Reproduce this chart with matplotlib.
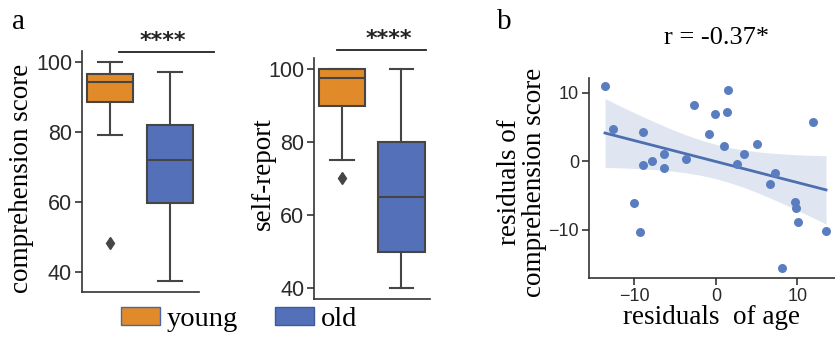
import numpy as np
import matplotlib
matplotlib.use("Agg")
import matplotlib.pyplot as plt
from matplotlib.patches import Patch
from matplotlib.transforms import blended_transform_factory

# box summaries: q1, median, q3, low whisker, high whisker, outliers
groups = ["young", "old"]
comp_stats = {
    "young": (88.6, 94.1, 96.4, 79.0, 100.0, [48.3]),
    "old": (59.8, 71.9, 82.1, 37.4, 97.0, []),
}
self_stats = {
    "young": (89.9, 97.5, 100.0, 75.2, 100.0, [70.1]),
    "old": (50.0, 65.0, 80.0, 40.0, 100.0, []),
}

# residual scatter
res_age = [-13.6, -12.6, -8.9, -8.9, -7.8, -6.4, -6.4, -3.7, -10.0, -9.3,
           -2.7, -0.8, -0.1, 1.0, 1.4, 1.5, 2.6, 3.4, 5.0, 6.6,
           7.2, 8.1, 9.7, 9.8, 10.1, 11.9, 13.5]
res_comp = [11.0, 4.7, 4.3, -0.6, 0.05, 1.0, -1.0, 0.4, -6.1, -10.3,
            8.3, 4.0, 6.9, 2.3, 7.2, 10.4, -0.4, 1.0, 2.5, -3.3,
            -1.7, -15.7, -6.0, -6.9, -8.9, 5.8, -10.2]

orange = "#e08a29"
blue = "#5470b8"
dot_blue = "#5a7dbf"
line_blue = "#4c6fb0"
edge = "#454545"
serif = "Liberation Serif"
sans = "Liberation Sans"

plt.rcParams["font.family"] = sans
plt.rcParams["axes.edgecolor"] = "#333333"
plt.rcParams["xtick.color"] = "#333333"
plt.rcParams["ytick.color"] = "#333333"
plt.rcParams["xtick.labelcolor"] = "#2a2a2a"
plt.rcParams["ytick.labelcolor"] = "#2a2a2a"


def draw_box(ax, stats):
    bxp = []
    for g in groups:
        q1, med, q3, lo, hi, fl = stats[g]
        bxp.append(dict(q1=q1, med=med, q3=q3, whislo=lo, whishi=hi,
                        fliers=fl, label=g))
    parts = ax.bxp(bxp, positions=[0, 1], widths=0.78, patch_artist=True,
                   showfliers=True,
                   boxprops=dict(edgecolor=edge, linewidth=1.5),
                   medianprops=dict(color=edge, linewidth=1.5),
                   whiskerprops=dict(color=edge, linewidth=1.5),
                   capprops=dict(color=edge, linewidth=1.5),
                   flierprops=dict(marker="d", markerfacecolor=edge,
                                   markeredgecolor=edge, markersize=6))
    for patch, c in zip(parts["boxes"], [orange, blue]):
        patch.set_facecolor(c)
    ax.set_xlim(-0.47, 1.48)
    ax.set_xticks([])
    ax.spines["top"].set_visible(False)
    ax.spines["right"].set_visible(False)
    ax.spines["left"].set_linewidth(1.2)
    ax.spines["bottom"].set_linewidth(1.2)
    ax.tick_params(axis="y", labelsize=15.5, length=5, width=1.2, pad=2)


def bracket(ax, x0, x1, y, xs, ys):
    tr = blended_transform_factory(ax.transData, ax.transAxes)
    ax.plot([x0, x1], [y, y], color="#222222", lw=1.3, transform=tr,
            clip_on=False)
    ax.text(xs, ys, "****", transform=tr, ha="center", va="center",
            fontsize=16, family="DejaVu Sans", weight="bold",
            color="#222222")


fig = plt.figure(figsize=(8.35, 3.42), dpi=100)

ax1 = fig.add_axes([0.098, 0.146, 0.140, 0.705])
draw_box(ax1, comp_stats)
ax1.set_ylim(34.3, 103.1)
ax1.set_yticks([40, 60, 80, 100])
ax1.set_ylabel("comprehension score", family=serif, fontsize=19.5)
ax1.yaxis.set_label_coords(-0.41, 0.47)
bracket(ax1, 0.15, 1.73, 0.996, 0.88, 1.04)

ax2 = fig.add_axes([0.376, 0.126, 0.139, 0.705])
draw_box(ax2, self_stats)
ax2.set_ylim(37.1, 103.0)
ax2.set_yticks([40, 60, 80, 100])
ax2.set_ylabel("self-report", family=serif, fontsize=19.5)
ax2.yaxis.set_label_coords(-0.33, 0.52)
bracket(ax2, -0.08, 1.41, 1.033, 0.78, 1.08)

# regression with analytic 95% band
x = np.array(res_age)
y = np.array(res_comp)
n = len(x)
slope, intercept = np.polyfit(x, y, 1)
xg = np.linspace(x.min(), x.max(), 100)
yg = intercept + slope * xg
resid = y - (intercept + slope * x)
s = np.sqrt(np.sum(resid ** 2) / (n - 2))
sxx = np.sum((x - x.mean()) ** 2)
se = s * np.sqrt(1.0 / n + (xg - x.mean()) ** 2 / sxx)
t = 2.06

ax3 = fig.add_axes([0.705, 0.187, 0.295, 0.585])
ax3.fill_between(xg, yg - t * se, yg + t * se, color=line_blue, alpha=0.17,
                 linewidth=0)
ax3.scatter(x, y, s=42, color=dot_blue, zorder=3, linewidths=0)
ax3.plot(xg, yg, color=line_blue, lw=2)
ax3.set_xlim(-15.6, 14.6)
ax3.set_ylim(-17.1, 12.2)
ax3.set_xticks([-10, 0, 10])
ax3.set_yticks([-10, 0, 10])
ax3.spines["top"].set_visible(False)
ax3.spines["right"].set_visible(False)
ax3.spines["left"].set_linewidth(1.2)
ax3.spines["bottom"].set_linewidth(1.2)
ax3.tick_params(labelsize=13, length=5, width=1.2, pad=2)
ax3.set_ylabel("residuals of\ncomprehension score", family=serif,
               fontsize=19.5, linespacing=1.0)
ax3.yaxis.set_label_coords(-0.17, 0.48)
ax3.set_xlabel("residuals  of age", family=serif, fontsize=19.5, labelpad=0)
ax3.text(0.52, 1.2, "r = -0.37*", transform=ax3.transAxes, ha="center",
         va="center", family=serif, fontsize=19)

fig.text(0.014, 0.935, "a", family=serif, fontsize=21, va="center")
fig.text(0.595, 0.935, "b", family=serif, fontsize=21, va="center")

handles = [Patch(facecolor=orange, edgecolor="#4a66a8", label="young"),
           Patch(facecolor=blue, edgecolor="#3f5a9a", label="old")]
fig.legend(handles=handles, loc="lower left", bbox_to_anchor=(0.125, -0.02),
           ncol=2, frameon=False, prop=dict(family=serif, size=20.5),
           handlelength=1.35, handleheight=0.6, handletextpad=0.25,
           columnspacing=1.3, borderpad=0.1)

fig.savefig("out.png", dpi=100)
